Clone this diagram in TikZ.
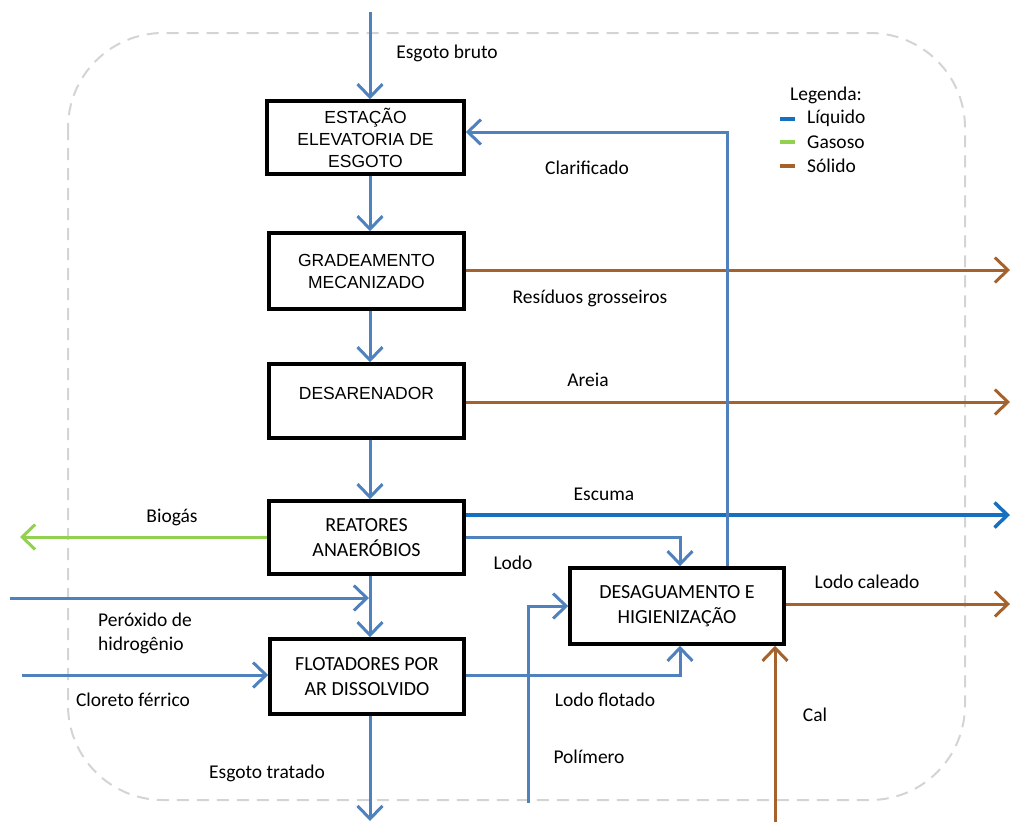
\documentclass[tikz,border=0pt]{standalone}
\usepackage{fontspec}
\setmainfont{Carlito}
\newfontfamily\arialf{Liberation Sans}
\usetikzlibrary{arrows.meta,calc}
\definecolor{liqblue}{RGB}{79,129,189}
\definecolor{escblue}{RGB}{22,112,192}
\definecolor{gasgreen}{RGB}{146,208,80}
\definecolor{solbrown}{RGB}{166,98,44}
\definecolor{limitgray}{RGB}{212,212,212}
\begin{document}
\begin{tikzpicture}[x=1pt,y=-1pt,
  stage/.style={draw=black,line width=3.5pt,fill=white,align=center,inner sep=0pt},
  arialbox/.style={stage,font=\arialf\fontsize{17.5}{22}\selectfont},
  calbox/.style={stage,font=\fontsize{20}{25}\selectfont},
  lbl/.style={font=\fontsize{19.5}{24}\selectfont,align=left,inner sep=0pt},
  tip/.style={-{Straight Barb[length=13pt,width=25pt]}},
  liq/.style={draw=liqblue,line width=3pt,tip},
  esc/.style={draw=escblue,line width=3.5pt,tip},
  gas/.style={draw=gasgreen,line width=3pt,tip},
  sol/.style={draw=solbrown,line width=3pt,tip},
  key/.style={line width=4.5pt}]
\useasboundingbox (0,0) rectangle (1011,823);

% plant boundary
\draw[limitgray,line width=2pt,dash pattern=on 12pt off 8pt,rounded corners=95pt]
  (68,33) rectangle (965,800);

% process stages
\node[arialbox,minimum width=197pt,minimum height=73pt] (eee) at (365.5,137.5)
  {ESTAÇÃO\\ELEVATORIA DE\\ESGOTO};
\node[arialbox,minimum width=195pt,minimum height=76pt] (grad) at (366.5,271)
  {GRADEAMENTO\\MECANIZADO};
\node[arialbox,minimum width=195pt,minimum height=74pt] (desa) at (366.5,401)
  {\raisebox{16pt}{DESARENADOR}};
\node[calbox,minimum width=195pt,minimum height=73pt] (reat) at (366.5,537.5)
  {REATORES\\ANAERÓBIOS};
\node[calbox,minimum width=194pt,minimum height=75pt] (flot) at (367,676.5)
  {FLOTADORES POR\\AR DISSOLVIDO};
\node[calbox,minimum width=214pt,minimum height=76pt] (desg) at (677,606)
  {DESAGUAMENTO E\\HIGIENIZAÇÃO};

% free ends and bends
\coordinate (ax) at (370,0);
\coordinate (raw) at (370,12);
\coordinate (treated) at (370,821);
\coordinate (peroxin) at (10,598);
\coordinate (peroxout) at (369,598);
\coordinate (clorin) at (22,675);
\coordinate (biogas) at (20,537);
\coordinate (escout) at (1010,515);
\coordinate (residout) at (1010,270);
\coordinate (areiaout) at (1010,402);
\coordinate (caleout) at (1010,604);
\coordinate (lodobend) at (680,537);
\coordinate (flotbend) at (680,675);
\coordinate (clarlow) at (727,0);
\coordinate (clarbend) at (727,132);
\coordinate (polin) at (528,803);
\coordinate (polbend) at (528,606);
\coordinate (calin) at (775,822);

% main liquid line
\draw[liq] (raw) -- (eee.north -| ax);
\draw[liq] (eee.south -| ax) -- (grad.north -| ax);
\draw[liq] (grad.south -| ax) -- (desa.north -| ax);
\draw[liq] (desa.south -| ax) -- (reat.north -| ax);
\draw[liq] (reat.south -| ax) -- (flot.north -| ax);
\draw[liq] (flot.south -| ax) -- (treated);

% chemicals
\draw[liq] (peroxin) -- (peroxout);
\draw[liq] (clorin) -- (flot.west |- clorin);

% side streams
\draw[gas] (reat.west |- biogas) -- (biogas);
\draw[esc] (reat.east |- escout) -- (escout);
\draw[sol] (grad.east |- residout) -- (residout);
\draw[sol] (desa.east |- areiaout) -- (areiaout);
\draw[liq] (reat.east |- lodobend) -- (lodobend) -- (desg.north -| lodobend);
\draw[liq] (flot.east |- flotbend) -- (flotbend) -- (desg.south -| flotbend);
\draw[liq] (desg.north -| clarlow) -- (clarbend) -- (eee.east |- clarbend);
\draw[liq] (polin) -- (polbend) -- (desg.west |- polbend);
\draw[sol] (calin) -- (desg.south -| calin);
\draw[sol] (desg.east |- caleout) -- (caleout);

% stream labels
\node[lbl] (lbruto) at (447,53) {Esgoto bruto};
\node[lbl] (lclar) at (587,168) {Clarificado};
\node[lbl] (lres) at (590,298) {Resíduos grosseiros};
\node[lbl] (lareia) at (588,380) {Areia};
\node[lbl] (lesc) at (604,494) {Escuma};
\node[lbl] (lbio) at (172,517) {Biogás};
\node[lbl] (llodo) at (513,563) {Lodo};
\node[lbl] (lcale) at (867,582) {Lodo caleado};
\node[lbl] (lperox) at (145,633) {Peróxido de\\hidrogênio};
\node[lbl] (lclor) at (133,700) {Cloreto férrico};
\node[lbl] (lflot) at (605,700) {Lodo flotado};
\node[lbl] (lcal) at (815,715) {Cal};
\node[lbl] (lpol) at (589,757) {Polímero};
\node[lbl] (ltrat) at (267,773) {Esgoto tratado};

% legend
\node[lbl,anchor=west] (legtitle) at (790,95) {Legenda:};
\coordinate (kl1) at (780,119);
\coordinate (kl2) at (780,142);
\coordinate (kl3) at (780,166);
\draw[key,escblue] (kl1) -- +(15,0);
\draw[key,gasgreen] (kl2) -- +(15,0);
\draw[key,solbrown] (kl3) -- +(15,0);
\node[lbl,anchor=west] (legliq) at (807,118) {Líquido};
\node[lbl,anchor=west] (leggas) at (807,142) {Gasoso};
\node[lbl,anchor=west] (legsol) at (807,166) {Sólido};
\end{tikzpicture}
\end{document}
